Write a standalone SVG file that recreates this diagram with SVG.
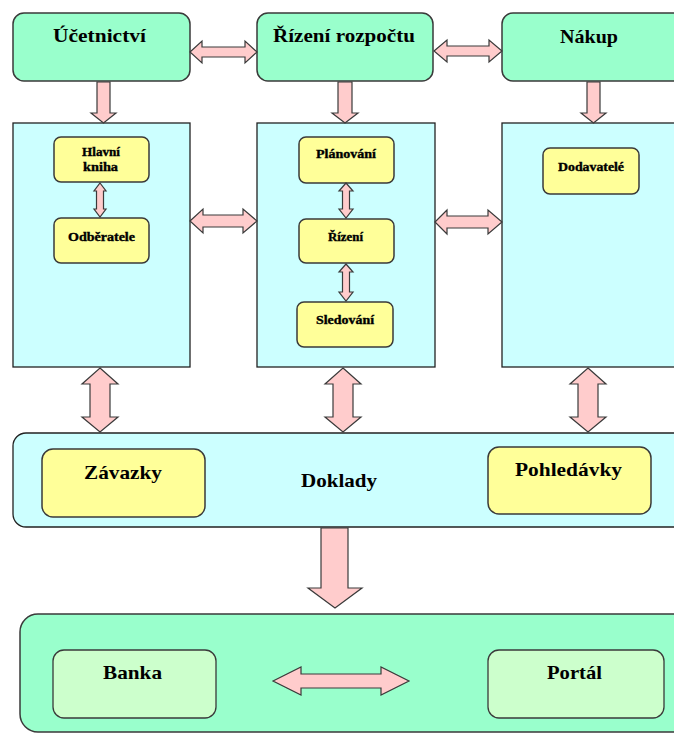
<svg xmlns="http://www.w3.org/2000/svg" width="674" height="733" viewBox="0 0 674 733">
  <style>
    .mint { fill: #99FFCC; stroke: #3a3a3a; stroke-width: 1.5; }
    .cyan { fill: #CCFFFF; stroke: #222; stroke-width: 1.3; }
    .yellow { fill: #FFFF99; stroke: #3a3a3a; stroke-width: 1.5; }
    .pale { fill: #CCFFCC; stroke: #3a3a3a; stroke-width: 1.3; }
    .arrow { fill: #FFCCCC; stroke: #3a3a3a; stroke-width: 1.2; stroke-linejoin: miter; }
    .lbl { font-family: "Liberation Serif", "Times New Roman", serif; font-weight: bold; fill: #000; }
    .big { font-size: 18px; }
    .mid { font-size: 19px; }
    .small { font-size: 12px; stroke: #000; stroke-width: 0.35; }
  </style>

  <rect width="674" height="733" fill="#ffffff"/>

  <!-- top row -->
  <g id="ucetnictvi">
    <rect class="mint" x="13" y="13" width="177" height="68" rx="11"/>
    <text class="lbl big" x="53" y="42" textLength="93" lengthAdjust="spacingAndGlyphs">Účetnictví</text>
  </g>
  <g id="rizeni-rozpoctu">
    <rect class="mint" x="257" y="13" width="176" height="68" rx="11"/>
    <text class="lbl big" x="273" y="42" textLength="142" lengthAdjust="spacingAndGlyphs">Řízení rozpočtu</text>
  </g>
  <g id="nakup">
    <rect class="mint" x="502" y="13" width="185" height="68" rx="11"/>
    <text class="lbl big" x="560" y="43" textLength="58" lengthAdjust="spacingAndGlyphs">Nákup</text>
  </g>

  <!-- middle row -->
  <g id="ucetnictvi-detail">
    <rect class="cyan" x="13" y="123" width="177" height="244"/>
  </g>
  <g id="hlavni-kniha">
    <rect class="yellow" x="54" y="137" width="95" height="45" rx="7"/>
    <text class="lbl small" x="82" y="156" textLength="38" lengthAdjust="spacingAndGlyphs">Hlavní</text>
    <text class="lbl small" x="83" y="171" textLength="35" lengthAdjust="spacingAndGlyphs">kniha</text>
  </g>
  <g id="odberatele">
    <rect class="yellow" x="54" y="218" width="95" height="45" rx="7"/>
    <text class="lbl small" x="68" y="241" textLength="67" lengthAdjust="spacingAndGlyphs">Odběratele</text>
  </g>

  <g id="rozpocet-detail">
    <rect class="cyan" x="257" y="123" width="178" height="244"/>
  </g>
  <g id="planovani">
    <rect class="yellow" x="299" y="137" width="95" height="46" rx="7"/>
    <text class="lbl small" x="316" y="158" textLength="60" lengthAdjust="spacingAndGlyphs">Plánování</text>
  </g>
  <g id="rizeni">
    <rect class="yellow" x="299" y="219" width="95" height="44" rx="7"/>
    <text class="lbl small" x="328" y="241" textLength="35" lengthAdjust="spacingAndGlyphs">Řízení</text>
  </g>
  <g id="sledovani">
    <rect class="yellow" x="297" y="302" width="96" height="45" rx="7"/>
    <text class="lbl small" x="316" y="324" textLength="58" lengthAdjust="spacingAndGlyphs">Sledování</text>
  </g>

  <g id="nakup-detail">
    <rect class="cyan" x="502" y="123" width="185" height="244"/>
  </g>
  <g id="dodavatele">
    <rect class="yellow" x="543" y="148" width="96" height="46" rx="7"/>
    <text class="lbl small" x="558" y="171" textLength="66" lengthAdjust="spacingAndGlyphs">Dodavatelé</text>
  </g>

  <!-- documents band -->
  <g id="doklady">
    <rect class="cyan" x="13" y="433" width="680" height="94" rx="13"/>
    <text class="lbl mid" x="301" y="487" textLength="76" lengthAdjust="spacingAndGlyphs">Doklady</text>
  </g>
  <g id="zavazky">
    <rect class="yellow" x="42" y="449" width="163" height="68" rx="11"/>
    <text class="lbl mid" x="84" y="479" textLength="78" lengthAdjust="spacingAndGlyphs">Závazky</text>
  </g>
  <g id="pohledavky">
    <rect class="yellow" x="488" y="447" width="163" height="67" rx="11"/>
    <text class="lbl mid" x="515" y="476" textLength="107" lengthAdjust="spacingAndGlyphs">Pohledávky</text>
  </g>

  <!-- payments band -->
  <g id="platby">
    <rect class="mint" x="20" y="614" width="680" height="118" rx="18"/>
  </g>
  <g id="banka">
    <rect class="pale" x="53" y="650" width="163" height="68" rx="11"/>
    <text class="lbl mid" x="103" y="679" textLength="59" lengthAdjust="spacingAndGlyphs">Banka</text>
  </g>
  <g id="portal">
    <rect class="pale" x="488" y="650" width="176" height="68" rx="11"/>
    <text class="lbl mid" x="547" y="679" textLength="55" lengthAdjust="spacingAndGlyphs">Portál</text>
  </g>

  <g id="connectors">
    <!-- horizontal double arrows, top row -->
    <polygon class="arrow" points="190,52 202,41 202,47 245,47 245,41 257,52 245,63 245,57 202,57 202,63"/>
    <polygon class="arrow" points="434,51 447,40 447,46 489,46 489,40 502,51 489,62 489,56 447,56 447,62"/>

    <!-- down arrows into detail panels -->
    <polygon class="arrow" points="97,82 110,82 110,113 116,113 103.5,123 91,113 97,113"/>
    <polygon class="arrow" points="338,82 352,82 352,113 358,113 345,123 332,113 338,113"/>
    <polygon class="arrow" points="587,82 600,82 600,113 606,113 593.5,123 581,113 587,113"/>

    <!-- horizontal double arrows between panels -->
    <polygon class="arrow" points="190,221 203,209 203,215 243,215 243,209 257,221 243,233 243,227 203,227 203,233"/>
    <polygon class="arrow" points="435,222 447,210 447,216 488,216 488,210 502,222 488,234 488,228 447,228 447,234"/>

    <!-- small links inside panels -->
    <polygon class="arrow" points="100,183 106,191 103.5,191 103.5,209 106,209 100,217 94,209 96.5,209 96.5,191 94,191"/>
    <polygon class="arrow" points="346,183 353,191 349.5,191 349.5,209 353,209 346,218 339,209 342.5,209 342.5,191 339,191"/>
    <polygon class="arrow" points="346,264 353,272 349.5,272 349.5,292 353,292 346,301 339,292 342.5,292 342.5,272 339,272"/>

    <!-- vertical double arrows to documents -->
    <polygon class="arrow" points="100,368 118,384 110,384 110,417 118,417 100,432 82,417 90,417 90,384 82,384"/>
    <polygon class="arrow" points="343,368 361,384 353,384 353,417 361,417 343,432 325,417 333,417 333,384 325,384"/>
    <polygon class="arrow" points="588,368 606,384 598,384 598,417 606,417 588,432 570,417 578,417 578,384 570,384"/>

    <!-- documents to payments -->
    <polygon class="arrow" points="321,528 348,528 348,588 362,588 335,608 308,588 321,588"/>

    <!-- bank to portal -->
    <polygon class="arrow" points="273,681 301,667 301,674 381,674 381,667 409,681 381,695 381,688 301,688 301,695"/>
  </g>
</svg>
